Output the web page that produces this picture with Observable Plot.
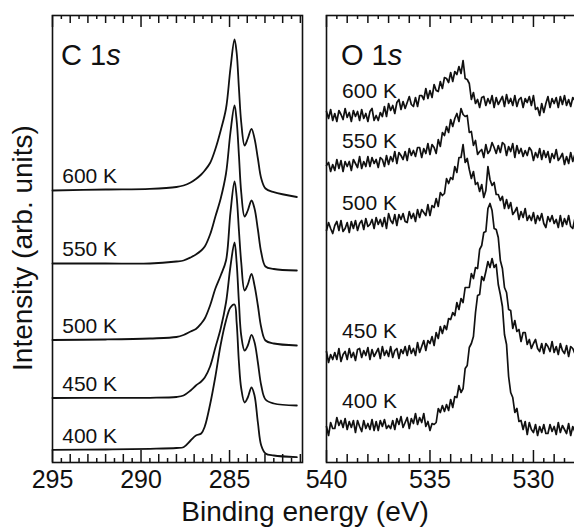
<!DOCTYPE html>
<html><head><meta charset="utf-8">
<script src="https://cdn.jsdelivr.net/npm/d3@7"></script>
<script src="https://cdn.jsdelivr.net/npm/@observablehq/plot@0.6"></script>
<style>
html,body{margin:0;padding:0;background:#fff;}
#wrap{position:relative;width:574px;height:527px;overflow:hidden;background:#fff;font-family:"Liberation Sans",Arial,sans-serif;}
#wrap svg{position:absolute;top:0;}
</style></head><body><div id="wrap"></div>
<script>
// Temperatures (series), bottom to top
const temps = ["400 K", "450 K", "500 K", "550 K", "600 K"];

// C 1s: binding energy (eV) and intensity (arb. units, offset for display)
const cEnergy = [295, 292, 289.5, 288, 287.6, 287.2, 286.9, 286.6, 286.4, 286.1, 285.8, 285.5, 285.2, 284.95, 284.72, 284.6, 284.47, 284.34, 284.15, 283.97, 283.76, 283.59, 283.4, 283.21, 282.97, 282.5, 281.2];
const c400 = [12.7, 13, 13.7, 14.5, 15.3, 22, 27, 29, 36, 58, 86, 118, 142, 155, 158, 140, 100, 74, 60, 65, 75, 67, 40, 17, 9, 7, 5.3];
const c450 = [64.5, 64.7, 64.7, 65.5, 67, 72, 77, 81, 85, 96, 115, 134, 160, 196, 220, 200, 160, 127, 112, 117, 127.7, 120.3, 100, 77, 63, 59, 57];
const c500 = [122.5, 123, 124, 125.5, 127.5, 131, 133.5, 139, 144, 157, 174, 187, 202, 250, 281, 266, 232, 200, 172, 178, 188.7, 177, 157, 135, 122, 119, 117];
const c550 = [199, 199, 199, 201, 202, 205, 208, 212, 216, 228, 246, 264, 289, 330, 357, 342, 307, 270, 246, 252, 262, 254, 233, 210, 196, 193.5, 192];
const c600 = [272, 273, 273.7, 275.5, 277, 280, 283.5, 288, 292, 299.5, 313.5, 332, 354, 394, 423, 410, 374, 340, 317, 324, 333.7, 324, 304, 284, 274, 270.3, 265.5];

// O 1s: binding energy (eV) and intensity (arb. units, offset for display)
const oEnergy = [540, 539.9, 539.8, 539.7, 539.6, 539.5, 539.4, 539.3, 539.2, 539.1,
  539, 538.9, 538.8, 538.7, 538.6, 538.5, 538.4, 538.3, 538.2, 538.1,
  538, 537.9, 537.8, 537.7, 537.6, 537.5, 537.4, 537.3, 537.2, 537.1,
  537, 536.9, 536.8, 536.7, 536.6, 536.5, 536.4, 536.3, 536.2, 536.1,
  536, 535.9, 535.8, 535.7, 535.6, 535.5, 535.4, 535.3, 535.2, 535.1,
  535, 534.9, 534.8, 534.7, 534.6, 534.5, 534.4, 534.3, 534.2, 534.1,
  534, 533.9, 533.8, 533.7, 533.6, 533.5, 533.4, 533.3, 533.2, 533.1,
  533, 532.9, 532.8, 532.7, 532.6, 532.5, 532.4, 532.3, 532.2, 532.1,
  532, 531.9, 531.8, 531.7, 531.6, 531.5, 531.4, 531.3, 531.2, 531.1,
  531, 530.9, 530.8, 530.7, 530.6, 530.5, 530.4, 530.3, 530.2, 530.1,
  530, 529.9, 529.8, 529.7, 529.6, 529.5, 529.4, 529.3, 529.2, 529.1,
  529, 528.9, 528.8, 528.7, 528.6, 528.5, 528.4, 528.3, 528.2, 528.1,
  528];
const o400 = [36, 27, 40, 34, 34, 45, 37, 42, 35, 44,
  33, 41, 35, 42, 30, 42, 36, 31, 42, 34,
  39, 33, 43, 32, 41, 32, 42, 36, 43, 34,
  37, 34, 42, 33, 44, 38, 46, 35, 40, 45,
  34, 44, 39, 49, 38, 45, 40, 49, 36, 41,
  32, 39, 38, 40, 54, 50, 57, 51, 58, 52,
  63, 55, 66, 65, 77, 70, 74, 94, 97, 115,
  119, 126, 150, 167, 168, 186, 182, 191, 201, 195,
  204, 195, 198, 178, 168, 156, 128, 118, 86, 70,
  65, 50, 54, 41, 42, 33, 41, 28, 40, 33,
  30, 38, 27, 36, 30, 38, 29, 29, 38, 31,
  36, 28, 40, 30, 37, 33, 29, 39, 27, 36,
  31];
const o450 = [111, 100, 108, 103, 110, 103, 114, 101, 108, 111,
  103, 114, 105, 110, 102, 113, 114, 105, 112, 107,
  115, 103, 113, 106, 110, 114, 104, 116, 107, 112,
  106, 116, 105, 112, 114, 104, 113, 109, 116, 107,
  117, 109, 114, 107, 120, 110, 116, 122, 112, 122,
  119, 126, 117, 130, 124, 136, 129, 137, 133, 144,
  143, 150, 147, 160, 153, 164, 160, 175, 175, 175,
  189, 184, 195, 194, 213, 217, 230, 231, 254, 259,
  252, 234, 233, 225, 202, 194, 175, 170, 153, 152,
  134, 142, 131, 133, 121, 130, 130, 118, 123, 114,
  119, 123, 114, 111, 119, 109, 119, 116, 111, 121,
  110, 116, 108, 119, 112, 109, 117, 106, 116, 114,
  109];
const o500 = [232, 240, 234, 229, 237, 241, 232, 242, 231, 234,
  240, 230, 241, 234, 242, 232, 239, 242, 233, 244,
  236, 238, 243, 234, 245, 238, 243, 236, 245, 234,
  249, 242, 239, 248, 237, 248, 243, 249, 241, 240,
  251, 244, 249, 241, 253, 245, 253, 250, 247, 258,
  247, 257, 255, 264, 256, 270, 267, 269, 284, 279,
  285, 283, 296, 290, 305, 305, 318, 300, 304, 293,
  284, 291, 278, 280, 271, 278, 265, 272, 296, 283,
  277, 280, 268, 268, 262, 266, 254, 263, 254, 260,
  248, 251, 255, 243, 251, 245, 254, 242, 247, 242,
  250, 239, 247, 242, 249, 239, 235, 246, 241, 247,
  239, 243, 235, 247, 236, 244, 238, 247, 236, 234,
  244];
const o550 = [297, 300, 291, 298, 292, 303, 294, 302, 291, 301,
  296, 301, 292, 303, 299, 295, 306, 294, 301, 296,
  306, 296, 305, 299, 303, 295, 305, 303, 296, 307,
  298, 306, 301, 311, 299, 310, 307, 303, 311, 302,
  314, 307, 312, 306, 315, 315, 305, 314, 309, 319,
  308, 318, 315, 309, 323, 316, 330, 327, 336, 330,
  343, 336, 344, 349, 341, 354, 348, 346, 347, 330,
  331, 317, 322, 308, 311, 313, 305, 318, 309, 312,
  320, 315, 309, 317, 310, 320, 318, 307, 316, 311,
  319, 305, 317, 309, 314, 306, 312, 307, 315, 312,
  302, 310, 305, 314, 303, 312, 305, 311, 300, 309,
  304, 313, 302, 305, 309, 298, 306, 299, 310, 301,
  308];
const o600 = [351, 344, 353, 342, 349, 341, 352, 348, 343, 354,
  345, 350, 341, 352, 346, 351, 342, 353, 344, 349,
  341, 351, 354, 342, 347, 342, 350, 346, 356, 346,
  359, 352, 357, 349, 360, 363, 353, 361, 354, 360,
  366, 358, 356, 365, 356, 367, 367, 363, 374, 364,
  372, 365, 378, 372, 371, 381, 374, 385, 384, 380,
  390, 381, 391, 388, 396, 389, 402, 384, 383, 379,
  363, 370, 359, 363, 355, 365, 366, 357, 364, 359,
  367, 355, 365, 358, 362, 366, 356, 368, 359, 364,
  357, 367, 356, 363, 365, 355, 364, 360, 366, 357,
  367, 353, 355, 347, 359, 350, 359, 366, 355, 364,
  359, 365, 355, 366, 358, 367, 357, 363, 356, 365,
  362];

// Tick labels
const cTickLabels = [295, 290, 285];
const oTickLabels = [540, 535, 530];

const FONT = "Liberation Sans, Arial, sans-serif";
const INK = "#111";
const Y_TOP = 447;
const tickLen = d => (d % 5 === 0 ? 12 : d % 1 === 0 ? 8 : 4);

function tickValues(o) {
  return d3.range(o.tickMin, o.tickMax + 0.01, 0.5);
}

function panel(o) {
  const data = temps.flatMap((t, k) => o.energy.map((e, i) => ({t, e, v: o.series[k][i]})));
  const labels = temps.map((t, k) => ({t, e: o.labelE, v: o.labelY(o.series[k])}));
  const tv = tickValues(o);
  const svg = Plot.plot({
    width: o.width, height: 527,
    marginTop: 15, marginBottom: 65, marginLeft: o.marginLeft, marginRight: o.marginRight,
    x: {domain: o.domain},
    y: {domain: [0, Y_TOP], axis: null},
    style: {background: "transparent", overflow: "visible", fontFamily: FONT, color: INK},
    marks: [
      Plot.ruleX(tv, {x: d => d, y1: 0, y2: tickLen, stroke: INK, strokeWidth: 1.5}),
      Plot.ruleX(tv, {x: d => d, y1: d => Y_TOP - tickLen(d), y2: Y_TOP, stroke: INK, strokeWidth: 1.5}),
      Plot.line(data, {x: "e", y: "v", z: "t", stroke: INK, strokeWidth: o.strokeWidth, curve: o.curve, strokeLinejoin: "round"}),
      Plot.text(labels, {x: "e", y: "v", text: "t", textAnchor: "start", dy: o.labelDy, fontSize: 21, fill: INK}),
      Plot.axisX(o.tickLabels, {tickSize: 0, tickPadding: 8, fontSize: 25, label: null, tickFormat: d => String(d)}),
      Plot.frame({stroke: INK, strokeWidth: 1.6})
    ]
  });
  svg.style.left = o.left + "px";
  return svg;
}

const cOpts = {
  energy: cEnergy, series: [c400, c450, c500, c550, c600],
  domain: [295, 280.88], tickMin: 281, tickMax: 295, tickLabels: cTickLabels,
  left: 0, width: 310, marginLeft: 52, marginRight: 8,
  labelE: 294.45, labelY: s => s[0], labelDy: -14,
  curve: "catmull-rom", strokeWidth: 1.8
};
const oOpts = {
  energy: oEnergy, series: [o400, o450, o500, o550, o600],
  domain: [540, 527.92], tickMin: 528, tickMax: 540, tickLabels: oTickLabels,
  left: 300, width: 276, marginLeft: 26, marginRight: 0,
  labelE: 539.25, labelY: s => d3.mean(s.slice(0, 12)), labelDy: -24,
  curve: "linear", strokeWidth: 1.7
};

const wrap = document.getElementById("wrap");
const cSvg = panel(cOpts);
const oSvg = panel(oOpts);
wrap.append(cSvg, oSvg);

// Overlay: titles and axis labels
const over = d3.select(wrap).append("svg")
  .attr("width", 574).attr("height", 527)
  .style("left", "0px").style("pointer-events", "none")
  .attr("font-family", FONT);

over.append("text").attr("transform", "translate(32,248) rotate(-90)").attr("fill", INK)
  .attr("text-anchor", "middle").attr("font-size", 28).text("Intensity (arb. units)");
over.append("text").attr("x", 305).attr("y", 521).attr("fill", INK)
  .attr("text-anchor", "middle").attr("font-size", 28).text("Binding energy (eV)");
[["C 1", 61], ["O 1", 341]].forEach(([t, x]) => {
  const tx = over.append("text").attr("x", x).attr("y", 65).attr("font-size", 29).attr("fill", INK);
  tx.append("tspan").text(t);
  tx.append("tspan").attr("font-style", "italic").text("s");
});
</script>
</body></html>
